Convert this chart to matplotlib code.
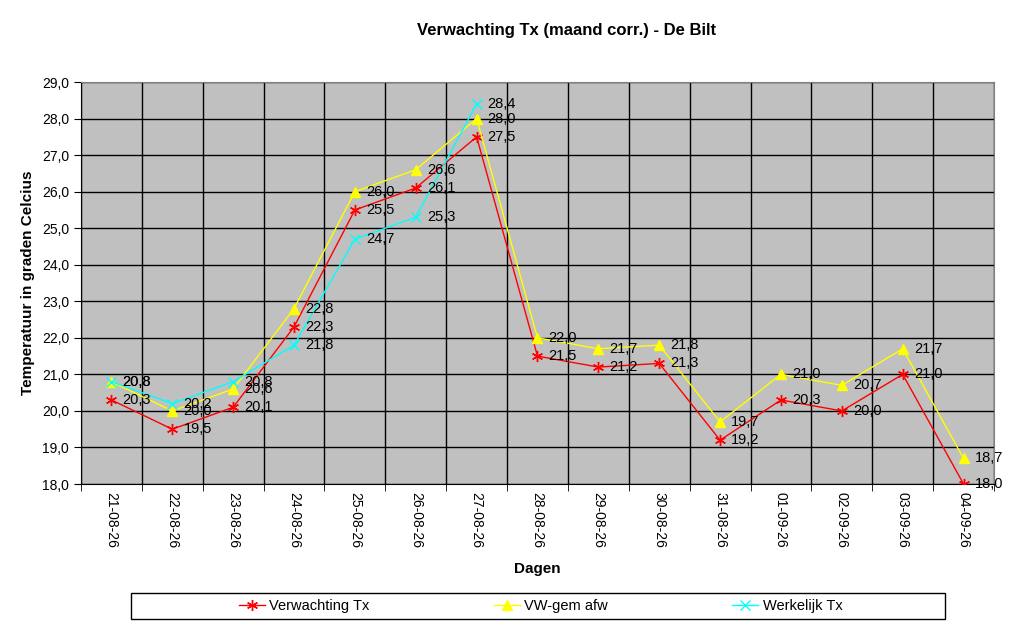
import matplotlib
matplotlib.use("Agg")
import matplotlib.pyplot as plt
from matplotlib.ticker import MultipleLocator, FixedLocator
from matplotlib.patches import Rectangle

dagen = ["21-08-26", "22-08-26", "23-08-26", "24-08-26", "25-08-26", "26-08-26",
         "27-08-26", "28-08-26", "29-08-26", "30-08-26", "31-08-26", "01-09-26",
         "02-09-26", "03-09-26", "04-09-26"]
verwachting = [20.3, 19.5, 20.1, 22.3, 25.5, 26.1, 27.5, 21.5, 21.2, 21.3,
               19.2, 20.3, 20.0, 21.0, 18.0]
vw_gem = [20.8, 20.0, 20.6, 22.8, 26.0, 26.6, 28.0, 22.0, 21.7, 21.8,
          19.7, 21.0, 20.7, 21.7, 18.7]
werkelijk = [20.8, 20.2, 20.8, 21.8, 24.7, 25.3, 28.4]

plt.rcParams['font.family'] = ['Liberation Sans', 'DejaVu Sans']

fig = plt.figure(figsize=(10.24, 6.26), dpi=100)
ax = fig.add_axes([0.0791, 0.2268, 0.8916, 0.6422])
ax.set_facecolor("#C0C0C0")

x = list(range(len(dagen)))
ax.plot(x, verwachting, color="red", lw=1, marker=(6, 2, 0), ms=8, mew=1,
        label="Verwachting Tx", zorder=3)
ax.plot(x, vw_gem, color="yellow", lw=1, marker="^", ms=7,
        label="VW-gem afw", zorder=3)
ax.plot(x[:len(werkelijk)], werkelijk, color="cyan", lw=1, marker="x", ms=7, mew=1,
        label="Werkelijk Tx", zorder=3)

for serie in (verwachting, vw_gem, werkelijk):
    for i, v in enumerate(serie):
        ax.annotate(f"{v:.1f}".replace(".", ","), (i, v), xytext=(8, 0),
                    textcoords="offset points", va="center", ha="left",
                    fontsize=10.5, color="black", zorder=4)

ax.set_xlim(-0.5, len(dagen) - 0.5)
ax.set_ylim(18, 29)
ax.yaxis.set_major_locator(MultipleLocator(1))
ax.yaxis.set_major_formatter(plt.FuncFormatter(lambda v, p: f"{v:.1f}".replace(".", ",")))
ax.set_xticks(x)
ax.set_xticklabels(dagen, rotation=-90, fontsize=10)
ax.tick_params(axis="x", length=0, pad=6)
ax.xaxis.set_minor_locator(FixedLocator([i - 0.5 for i in range(len(dagen) + 1)]))
ax.tick_params(axis="x", which="minor", length=5, color="black")
ax.tick_params(axis="y", labelsize=10, length=5)
ax.grid(True, axis="y", which="major", color="black", lw=1)
ax.grid(True, axis="x", which="minor", color="black", lw=1)
ax.set_axisbelow(True)
for s in ax.spines.values():
    s.set_color("#808080")
ax.spines["left"].set_color("black")
ax.spines["bottom"].set_color("black")

ax.set_xlabel("Dagen", fontsize=11, fontweight="bold", labelpad=10)
ax.set_ylabel("Temperatuur in graden Celcius", fontsize=11, fontweight="bold", labelpad=5)
fig.text(0.553, 0.952, "Verwachting Tx (maand corr.) - De Bilt", ha="center", va="center",
         fontsize=12, fontweight="bold")

# legend box spanning the width, entries centred inside
fig.patches.append(Rectangle((131 / 1024, 1 - 619 / 626), 814 / 1024, 26 / 626,
                             transform=fig.transFigure, fill=False,
                             edgecolor="black", lw=1))
leg = fig.legend(loc="center", bbox_to_anchor=(0.528, 0.032), ncol=3,
                 prop={"family": ["Liberation Sans Narrow", "Liberation Sans"], "size": 10.5},
                 frameon=False, handlelength=1.8, handletextpad=0.3,
                 columnspacing=8.5)

fig.savefig("out.png", dpi=100)
